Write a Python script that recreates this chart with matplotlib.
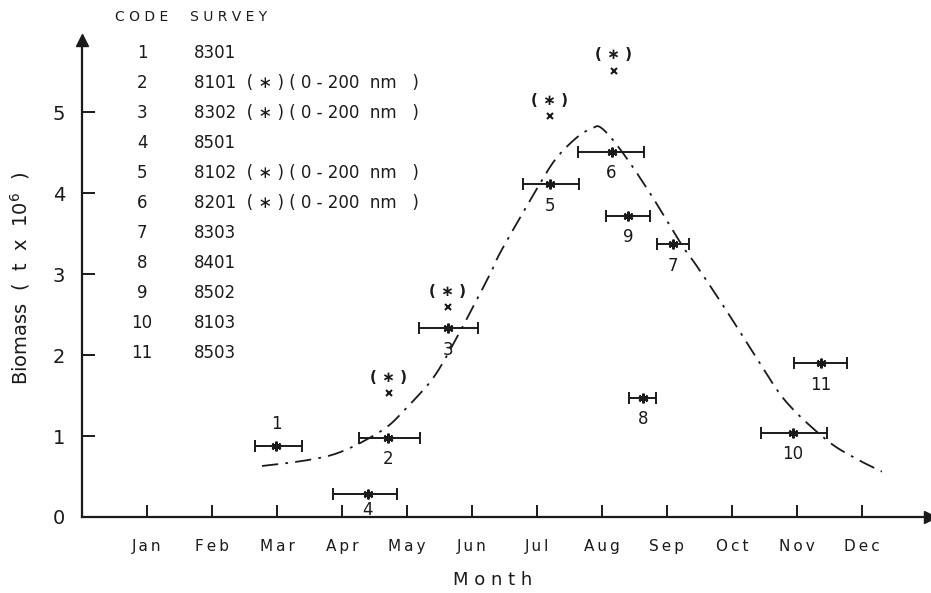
import matplotlib
matplotlib.use("Agg")
import matplotlib.pyplot as plt
import numpy as np

plt.rcParams['font.family'] = ['DejaVu Sans']

# ---------------- data ----------------
month_labels = ['Jan', 'Feb', 'Mar', 'Apr', 'May', 'Jun', 'Jul', 'Aug', 'Sep', 'Oct', 'Nov', 'Dec']
month_ticks = list(range(1, 13))
y_ticks = [0, 1, 2, 3, 4, 5]

codes = ['1', '2', '3', '4', '5', '6', '7', '8', '9', '10', '11']
surveys = ['8301', '8101', '8302', '8501', '8102', '8201', '8303', '8401', '8502', '8103', '8503']
survey_notes = ['', '( ∗ ) ( 0 - 200  nm   )', '( ∗ ) ( 0 - 200  nm   )', '', '( ∗ ) ( 0 - 200  nm   )',
                '( ∗ ) ( 0 - 200  nm   )', '', '', '', '', '']

point_month = [2.99, 4.71, 5.63, 4.40, 7.20, 8.15, 9.09, 8.63, 8.40, 10.94, 11.37]
point_biomass = [0.88, 0.98, 2.33, 0.28, 4.11, 4.51, 3.37, 1.47, 3.72, 1.04, 1.90]
period_start = [2.66, 4.26, 5.18, 3.86, 6.78, 7.63, 8.85, 8.42, 8.06, 10.45, 10.95]
period_end = [3.38, 5.20, 6.09, 4.85, 7.65, 8.65, 9.34, 8.83, 8.74, 11.46, 11.77]

star_codes = ['2', '3', '5', '6']
star_month = [4.72, 5.63, 7.20, 8.18]
star_biomass = [1.53, 2.59, 4.95, 5.51]

curve_month = [2.77, 3.2, 3.66, 3.97, 4.32, 4.69, 4.94, 5.15, 5.35, 5.55, 5.89, 6.28, 6.46, 7.05,
               7.31, 7.62, 7.85, 8.00, 8.31, 8.74, 9.23, 9.46, 9.94, 10.43, 10.85, 11.46, 11.89, 12.31]
curve_biomass = [0.63, 0.67, 0.73, 0.80, 0.93, 1.11, 1.30, 1.48, 1.66, 1.90, 2.40, 3.00, 3.30, 4.12,
                 4.44, 4.69, 4.80, 4.80, 4.51, 4.00, 3.36, 3.10, 2.52, 1.90, 1.41, 0.95, 0.73, 0.56]


def catmull_rom(xs, ys, n=12):
    """Smooth drawing path through the given points."""
    P = np.column_stack([xs, ys]).astype(float)
    P = np.vstack([P[0] - (P[1] - P[0]), P, P[-1] + (P[-1] - P[-2])])
    out = []
    t = np.linspace(0, 1, n, endpoint=False)[:, None]
    for i in range(1, len(P) - 2):
        p0, p1, p2, p3 = P[i - 1], P[i], P[i + 1], P[i + 2]
        seg = 0.5 * ((2 * p1) + (-p0 + p2) * t + (2 * p0 - 5 * p1 + 4 * p2 - p3) * t ** 2
                     + (-p0 + 3 * p1 - 3 * p2 + p3) * t ** 3)
        out.append(seg)
    out.append(P[-2][None, :])
    out = np.vstack(out)
    return out[:, 0], out[:, 1]


# ---------------- figure ----------------
W, H = 931, 593
fig = plt.figure(figsize=(W / 100, H / 100), dpi=100)
ax_left, ax_right, ax_bottom, ax_top = 82, 930, 517, 40
ax = fig.add_axes([ax_left / W, 1 - ax_bottom / H, (ax_right - ax_left) / W, (ax_bottom - ax_top) / H])

XMAX, YMAX = 13.05, 5.89
ax.set_xlim(0, XMAX)
ax.set_ylim(0, YMAX)

ink = '#1a1a1a'
for s in ['top', 'right']:
    ax.spines[s].set_visible(False)
for s in ['left', 'bottom']:
    ax.spines[s].set_linewidth(1.6)
    ax.spines[s].set_color(ink)

# arrow heads
ax.plot([0], [YMAX], marker='^', color=ink, markersize=9, clip_on=False)
ax.plot([XMAX], [0], marker='>', color=ink, markersize=9, clip_on=False)

ax.set_xticks(month_ticks)
ax.set_xticklabels(['\u2009'.join(m) for m in month_labels])
ax.set_yticks(y_ticks)
ax.set_yticklabels([str(v) for v in y_ticks])
ax.tick_params(axis='x', direction='in', length=9, width=1.4, color=ink, pad=16,
               labelsize=11, labelcolor=ink)
ax.tick_params(axis='y', direction='in', length=9, width=1.4, color=ink, pad=12,
               labelsize=14, labelcolor=ink)

# fitted curve (dash-dot)
cx, cy = catmull_rom(curve_month, curve_biomass)
ax.plot(cx, cy, color=ink, lw=1.3, dashes=(9, 4, 1.5, 4))

# survey points with period bars
xerr = [np.subtract(point_month, period_start), np.subtract(period_end, point_month)]
ax.errorbar(point_month, point_biomass, xerr=xerr, fmt='none', ecolor=ink, elinewidth=1.4,
            capsize=4, capthick=1.4)
ax.plot(point_month, point_biomass, linestyle='none', marker=(6, 2, 0), markersize=7,
        markeredgewidth=1.6, color=ink)

for c, m, b in zip(codes, point_month, point_biomass):
    if c == '1':
        ax.annotate(c, (m, b), xytext=(0, 9), textcoords='offset points', ha='center',
                    va='bottom', fontsize=12, color=ink)
    else:
        dy = -5 if c == '4' else -9
        ax.annotate(c, (m, b), xytext=(0, dy), textcoords='offset points', ha='center',
                    va='top', fontsize=12, color=ink)

# (*) values
ax.plot(star_month, star_biomass, linestyle='none', marker='x', markersize=5,
        markeredgewidth=1.5, color=ink)
for m, b in zip(star_month, star_biomass):
    ax.annotate('( ∗ )', (m, b), xytext=(0, 6), textcoords='offset points', ha='center',
                va='bottom', fontsize=11, color=ink, fontweight='bold')

# axis titles
fig.text(493 / W, 1 - 580 / H, 'M o n t h', ha='center', va='center', fontsize=13, color=ink)
ax.set_ylabel('Biomass  (  t  x  10$^6$  )', fontsize=14, color=ink)
ax.yaxis.set_label_coords(-(82 - 32) / (ax_right - ax_left), 0.5)

# code table
fig.text(115 / W, 1 - 17 / H, 'C O D E     S U R V E Y', ha='left', va='center',
         fontsize=10, color=ink)
for i, (c, s, n) in enumerate(zip(codes, surveys, survey_notes)):
    ypx = 53 + 30 * i
    fig.text(142 / W, 1 - ypx / H, c, ha='center', va='center', fontsize=12, color=ink)
    label = s + ('  ' + n if n else '')
    fig.text(194 / W, 1 - ypx / H, label, ha='left', va='center', fontsize=12, color=ink)

fig.savefig('out.png', dpi=100)
